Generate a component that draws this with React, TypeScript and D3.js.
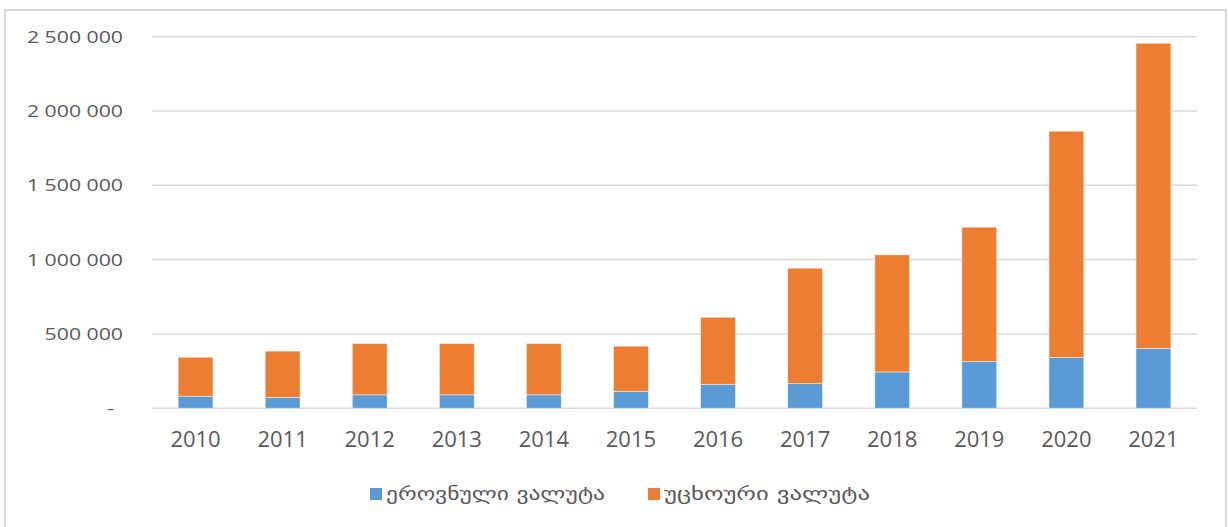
import React, { useEffect, useRef } from 'react';
import * as d3 from 'd3';

// years on the x axis
const years = ['2010', '2011', '2012', '2013', '2014', '2015', '2016', '2017', '2018', '2019', '2020', '2021'];
// national currency (blue, bottom)
const national = [81000, 72000, 90000, 90000, 90000, 114000, 161000, 166000, 244000, 314000, 341000, 402000];
// foreign currency (orange, top)
const foreign = [262000, 312000, 345000, 345000, 345000, 303000, 451000, 776000, 788000, 904000, 1523000, 2054000];

const yTicks = [0, 500000, 1000000, 1500000, 2000000, 2500000];
const yTickLabels = ['-', '500 000', '1 000 000', '1 500 000', '2 000 000', '2 500 000'];

const seriesNames = ['ეროვნული ვალუტა', 'უცხოური ვალუტა'];
const seriesColors = ['#5b9bd5', '#ed7d31'];

const App = () => {
  const ref = useRef<SVGSVGElement | null>(null);

  useEffect(() => {
    const W = 1228;
    const H = 527;
    const svg = d3.select(ref.current);
    svg.selectAll('*').remove();

    // chart frame
    svg
      .append('rect')
      .attr('x', 5)
      .attr('y', 10)
      .attr('width', 1221)
      .attr('height', H + 20)
      .attr('fill', '#fff')
      .attr('stroke', '#d9d9d9')
      .attr('stroke-width', 2);

    const x = d3
      .scaleBand()
      .domain(years)
      .range([152, 1197])
      .paddingInner(0.6)
      .paddingOuter(0.3);

    const y = d3.scaleLinear().domain([0, 2500000]).range([408.2, 36.7]);

    // gridlines
    svg
      .append('g')
      .selectAll('line')
      .data(yTicks)
      .enter()
      .append('line')
      .attr('x1', 152)
      .attr('x2', 1197)
      .attr('y1', d => y(d))
      .attr('y2', d => y(d))
      .attr('stroke', '#d9d9d9')
      .attr('stroke-width', 1.5);

    // y labels (stretched a bit, like the original)
    svg
      .append('g')
      .selectAll('text')
      .data(yTicks)
      .enter()
      .append('text')
      .attr('transform', (d, i) => `translate(${i === 0 ? 114 : 123},${y(d) + 6}) scale(1.25,1)`)
      .attr('text-anchor', 'end')
      .attr('font-family', '"Open Sans", sans-serif')
      .attr('font-size', 17)
      .attr('fill', '#595959')
      .text((d, i) => yTickLabels[i]);

    // stacked bars
    const rows = years.map((yr, i) => ({ year: yr, national: national[i], foreign: foreign[i] }));
    const stack = d3.stack<any>().keys(['national', 'foreign'])(rows);

    stack.forEach((layer, k) => {
      svg
        .append('g')
        .selectAll('rect')
        .data(layer)
        .enter()
        .append('rect')
        .attr('x', d => x(d.data.year) as number)
        .attr('width', x.bandwidth())
        .attr('y', d => y(d[1]))
        .attr('height', d => y(d[0]) - y(d[1]))
        .attr('fill', seriesColors[k])
        .attr('stroke', '#fff')
        .attr('stroke-opacity', 0.6)
        .attr('stroke-width', 0.75);
    });

    // x labels
    svg
      .append('g')
      .selectAll('text')
      .data(years)
      .enter()
      .append('text')
      .attr('x', d => (x(d) as number) + x.bandwidth() / 2)
      .attr('y', 447)
      .attr('text-anchor', 'middle')
      .attr('font-family', '"Open Sans", sans-serif')
      .attr('font-size', 22)
      .attr('fill', '#595959')
      .text(d => d);

    // legend
    const legendX = [370, 648];
    const legendLen = [219, 206];
    seriesNames.forEach((name, i) => {
      svg
        .append('rect')
        .attr('x', legendX[i])
        .attr('y', 488)
        .attr('width', 12)
        .attr('height', 12)
        .attr('fill', seriesColors[i]);
      svg
        .append('text')
        .attr('x', legendX[i] + 16)
        .attr('y', 500)
        .attr('font-family', '"DejaVu Sans", sans-serif')
        .attr('font-size', 18)
        .attr('fill', '#595959')
        .attr('textLength', legendLen[i])
        .attr('lengthAdjust', 'spacingAndGlyphs')
        .text(name);
    });

    svg.attr('width', W).attr('height', H);
  }, []);

  return (
    <svg
      ref={ref}
      width={1228}
      height={527}
      style={{ position: 'absolute', left: 0, top: 0, background: '#fff' }}
    />
  );
};

export default App;
